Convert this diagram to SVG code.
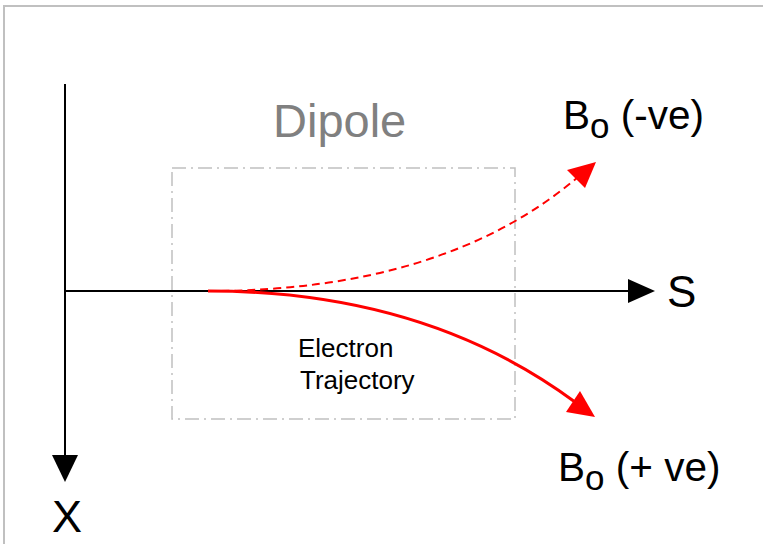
<svg xmlns="http://www.w3.org/2000/svg" width="763" height="544" viewBox="0 0 763 544">
<defs>
<style>
.t{font-family:"Liberation Sans",Arial,sans-serif;fill:#000}
.ax{stroke:#000;stroke-width:2;fill:none}
.traj{stroke:#ff0000;fill:none}
</style>
</defs>
<rect x="0" y="0" width="763" height="544" fill="#fff"/>
<rect id="frame" x="4" y="6" width="800" height="600" fill="none" stroke="#c0c0c0" stroke-width="2"/>
<g id="dipole">
<rect x="172" y="168" width="343" height="251" fill="none" stroke="#c0c0c0" stroke-width="1.5" stroke-dasharray="14 5 2 5"/>
<text class="t" x="273" y="137" font-size="47" style="fill:#808080">Dipole</text>
</g>
<g id="connectors">
<line class="ax" x1="65" y1="291" x2="632" y2="291"/>
<polygon points="628,279 655,291 628,303" fill="#000"/>
<line class="ax" x1="65" y1="84" x2="65" y2="458"/>
<polygon points="52,455 65,482 78,455" fill="#000"/>
<path class="traj" d="M208,291 Q444,291 578,177" stroke-width="2" stroke-dasharray="8 5"/>
<polygon points="596,162 567,170 585,188" fill="#ff0000"/>
<path class="traj" d="M208,291 Q425,291 575,402" stroke-width="3"/>
<polygon points="595,417 566,412 580,391" fill="#ff0000"/>
</g>
<g id="label-s"><text class="t" x="667" y="307" font-size="44">S</text></g>
<g id="label-x"><text class="t" x="52" y="532" font-size="45">X</text></g>
<g id="label-neg"><text class="t" x="563" y="129" font-size="40.5">B<tspan font-size="35" dy="9">o</tspan><tspan dy="-9"> (-ve)</tspan></text></g>
<g id="label-pos"><text class="t" x="558" y="481" font-size="40.5">B<tspan font-size="35" dy="9">o</tspan><tspan dy="-9"> (+ ve)</tspan></text></g>
<g id="label-traj"><text class="t" font-size="26"><tspan x="298" y="357">Electron</tspan><tspan x="300" y="389">Trajectory</tspan></text></g>
</svg>
